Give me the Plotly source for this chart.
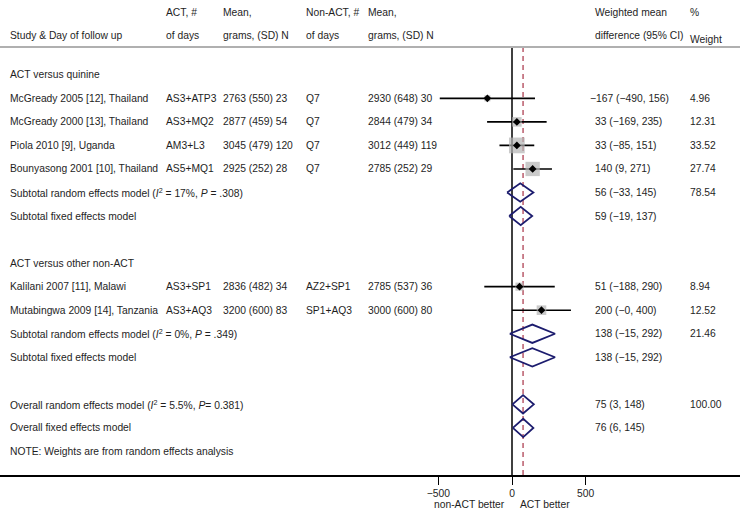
import plotly.graph_objects as go

# ---------------- data ----------------
studies = ["McGready 2005 [12], Thailand", "McGready 2000 [13], Thailand",
           "Piola 2010 [9], Uganda", "Bounyasong 2001 [10], Thailand",
           "Kalilani 2007 [11], Malawi", "Mutabingwa 2009 [14], Tanzania"]
study_rows = [1, 2, 3, 4, 9, 10]
act_days = ["AS3+ATP3", "AS3+MQ2", "AM3+L3", "AS5+MQ1", "AS3+SP1", "AS3+AQ3"]
act_mean = ["2763 (550) 23", "2877 (459) 54", "3045 (479) 120", "2925 (252) 28",
            "2836 (482) 34", "3200 (600) 83"]
non_days = ["Q7", "Q7", "Q7", "Q7", "AZ2+SP1", "SP1+AQ3"]
non_mean = ["2930 (648) 30", "2844 (479) 34", "3012 (449) 119", "2785 (252) 29",
            "2785 (537) 36", "3000 (600) 80"]
est = [-167, 33, 33, 140, 51, 200]
lo = [-490, -169, -85, 9, -188, 0]
hi = [156, 235, 151, 271, 290, 400]
weights = [4.96, 12.31, 33.52, 27.74, 8.94, 12.52]
wmd_text = ["−167 (−490, 156)", "33 (−169, 235)", "33 (−85, 151)", "140 (9, 271)",
            "51 (−188, 290)", "200 (−0, 400)"]
weight_text = ["4.96", "12.31", "33.52", "27.74", "8.94", "12.52"]

pooled_labels = ["Subtotal random effects model (<i>I</i><sup>2</sup> = 17%, <i>P</i> = .308)",
                 "Subtotal fixed effects model",
                 "Subtotal random effects model (<i>I</i><sup>2</sup> = 0%, <i>P</i> = .349)",
                 "Subtotal fixed effects model",
                 "Overall random effects model (<i>I</i><sup>2</sup> = 5.5%, <i>P</i>= 0.381)",
                 "Overall fixed effects model"]
pooled_rows = [5, 6, 11, 12, 14, 15]
pooled_est = [56, 59, 138, 138, 75, 76]
pooled_lo = [-33, -19, -15, -15, 3, 6]
pooled_hi = [145, 137, 292, 292, 148, 145]
pooled_wmd = ["56 (−33, 145)", "59 (−19, 137)", "138 (−15, 292)", "138 (−15, 292)",
              "75 (3, 148)", "76 (6, 145)"]
pooled_weight = ["78.54", "", "21.46", "", "100.00", ""]

group_labels = ["ACT versus quinine", "ACT versus other non-ACT"]
group_rows = [0, 8]
note_text = "NOTE: Weights are from random effects analysis"
note_row = 16
overall_est = 75

header1 = ["", "ACT, #", "Mean,", "Non-ACT, #", "Mean,", "Weighted mean", "%"]
header2 = ["Study & Day of follow up", "of days", "grams, (SD) N", "of days",
           "grams, (SD) N", "difference (95% CI)", "Weight"]
tick_vals = [-500, 0, 500]
favour_left = "non-ACT better"
favour_right = "ACT better"

# ---------------- layout geometry ----------------
W, H = 740, 510
PLOT_BOTTOM = 475          # pixel of the axis line
ROW0, ROWH = 74.8, 23.54   # pixel of row 0, row spacing
X0PX, PXU = 512, 0.1474    # pixel of value 0, pixels per unit
col_px = [8, 164, 221, 304, 366, 593, 688]
FONT = dict(family="Liberation Sans, Arial, sans-serif", size=10.3, color="#1e1e1e")

xr = [-X0PX / PXU, (W - X0PX) / PXU]
yr = [(PLOT_BOTTOM - ROW0) / ROWH, -ROW0 / ROWH]


def row_of_px(p):
    return (p - ROW0) / ROWH


fig = go.Figure()

# CI lines
for r, e, l, h in zip(study_rows, est, lo, hi):
    fig.add_trace(go.Scatter(x=[l, h], y=[r, r], mode="lines",
                             line=dict(color="black", width=1.6),
                             hoverinfo="skip", showlegend=False))
# weight boxes
fig.add_trace(go.Scatter(x=est, y=study_rows, mode="markers",
                         marker=dict(symbol="square", color="#b4b4b4",
                                     size=[2.72 * w ** 0.5 for w in weights],
                                     line=dict(width=0)),
                         hoverinfo="skip", showlegend=False))
# point estimates
fig.add_trace(go.Scatter(x=est, y=study_rows, mode="markers",
                         marker=dict(symbol="diamond", color="black", size=6),
                         hoverinfo="skip", showlegend=False))
# pooled diamonds
HH = 0.39
for r, e, l, h in zip(pooled_rows, pooled_est, pooled_lo, pooled_hi):
    fig.add_trace(go.Scatter(x=[l, e, h, e, l], y=[r, r - HH, r, r + HH, r],
                             mode="lines", line=dict(color="#1c1c6e", width=1.8),
                             hoverinfo="skip", showlegend=False))

top_line_row = row_of_px(47)
# null line
fig.add_shape(type="line", x0=0, x1=0, y0=top_line_row, y1=yr[0],
              line=dict(color="black", width=1.5), layer="below")
# overall estimate dashed line
fig.add_shape(type="line", x0=overall_est, x1=overall_est, y0=top_line_row, y1=yr[0],
              line=dict(color="#a83246", width=1.2, dash="5px,4px"), layer="below")
# header separator
fig.add_shape(type="line", xref="paper", x0=0, x1=1, y0=top_line_row, y1=top_line_row,
              line=dict(color="#b0b0b0", width=2))

ann = []


def txt(px, row, s, yshift=0, xshift=0):
    ann.append(dict(x=px / W, xref="paper", y=row, yref="y", text=s, showarrow=False,
                    xanchor="left", yanchor="middle", font=FONT, yshift=yshift,
                    xshift=xshift))


for i, s in enumerate(header1):
    if s:
        txt(col_px[i], row_of_px(12), s)
for i, s in enumerate(header2):
    txt(col_px[i], row_of_px(39 if s == "Weight" else 35), s)

for s, r in zip(group_labels, group_rows):
    txt(col_px[0], r, s)
for i, r in enumerate(study_rows):
    txt(col_px[0], r, studies[i])
    txt(col_px[1], r, act_days[i])
    txt(col_px[2], r, act_mean[i])
    txt(col_px[3], r, non_days[i])
    txt(col_px[4], r, non_mean[i])
    txt(col_px[5], r, wmd_text[i], xshift=-5 if wmd_text[i].startswith("−") else 0)
    txt(col_px[6], r, weight_text[i])
for i, r in enumerate(pooled_rows):
    txt(col_px[0], r, pooled_labels[i])
    txt(col_px[5], r, pooled_wmd[i])
    if pooled_weight[i]:
        txt(col_px[6], r, pooled_weight[i])
txt(col_px[0], note_row, note_text)

ann.append(dict(x=0, xref="x", xanchor="right", y=0, yref="paper", yanchor="top",
                yshift=-22, xshift=-5, text=favour_left, showarrow=False, font=FONT))
ann.append(dict(x=0, xref="x", xanchor="left", y=0, yref="paper", yanchor="top",
                yshift=-22, xshift=6, text=favour_right, showarrow=False, font=FONT))

fig.update_layout(
    width=W, height=H, margin=dict(l=0, r=0, t=0, b=H - PLOT_BOTTOM),
    paper_bgcolor="white", plot_bgcolor="white", annotations=ann,
    xaxis=dict(range=xr, showgrid=False, zeroline=False, showline=True,
               linecolor="black", linewidth=1.5, ticks="outside", ticklen=8,
               tickwidth=1.2, tickcolor="black", tickvals=tick_vals,
               tickfont=FONT, fixedrange=True),
    yaxis=dict(range=yr, visible=False, fixedrange=True),
    showlegend=False,
)

fig.write_html("out.html", config={"displayModeBar": False},
               post_script="document.body.style.margin='0px';"
                           "document.body.style.overflow='hidden';")
